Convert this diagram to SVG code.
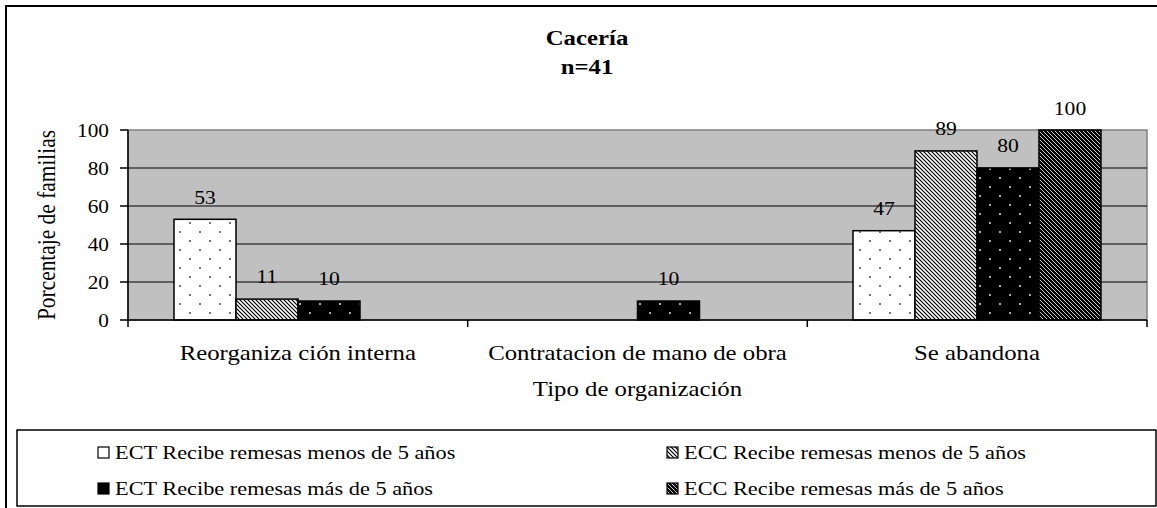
<svg xmlns="http://www.w3.org/2000/svg" width="1157" height="508" viewBox="0 0 1157 508">
<style>
text{font-family:"Liberation Serif","Times New Roman",serif;fill:#000}
.t{font-size:20px;font-weight:bold}
.cat{font-size:20px}
.tick{font-size:19px}
.val{font-size:18px}
.leg{font-size:18px}
.bar{stroke:#000;stroke-width:1.5}
.grid{stroke:#000;stroke-width:1}
.axis{stroke:#000;stroke-width:1.5;fill:none}
</style>
<defs>
<pattern id="dotW" patternUnits="userSpaceOnUse" width="20" height="18">
<rect width="20" height="18" fill="#fff"/>
<rect x="9" y="6" width="2" height="2" fill="#777"/>
<rect x="-1" y="15" width="2" height="2" fill="#777"/>
<rect x="19" y="15" width="2" height="2" fill="#777"/>
</pattern>
<pattern id="dotB" patternUnits="userSpaceOnUse" width="20" height="18">
<rect width="20" height="18" fill="#000"/>
<rect x="9" y="6" width="2" height="2" fill="#aaa"/>
<rect x="-1" y="15" width="2" height="2" fill="#aaa"/>
<rect x="19" y="15" width="2" height="2" fill="#aaa"/>
</pattern>
<pattern id="hatchW" patternUnits="userSpaceOnUse" width="4" height="4">
<rect width="4" height="4" fill="#fff"/>
<path d="M-1,-1 L5,5 M-1,3 L1,5 M3,-1 L5,1" stroke="#000" stroke-width="1.2"/>
</pattern>
<pattern id="hatchB" patternUnits="userSpaceOnUse" width="4" height="4">
<rect width="4" height="4" fill="#000"/>
<path d="M-1,-1 L5,5 M-1,3 L1,5 M3,-1 L5,1" stroke="#ddd" stroke-width="0.9"/>
</pattern>
</defs>

<rect id="frame" x="6" y="6" width="1160" height="520" fill="#fff" stroke="#000" stroke-width="2"/>

<g id="title">
<text class="t" text-anchor="middle" transform="translate(587,45) scale(1.24,1)">Cacería</text>
<text class="t" text-anchor="middle" transform="translate(587,74) scale(1.24,1)">n=41</text>
</g>

<g id="plot">
<rect x="128" y="130" width="1019" height="190" fill="#C0C0C0" stroke="#808080" stroke-width="1.5"/>
<line class="grid" x1="128" y1="168" x2="1147" y2="168"/>
<line class="grid" x1="128" y1="206" x2="1147" y2="206"/>
<line class="grid" x1="128" y1="244" x2="1147" y2="244"/>
<line class="grid" x1="128" y1="282" x2="1147" y2="282"/>
</g>

<g id="bars">
<rect class="bar" x="174" y="219.3" width="62" height="100.7" fill="url(#dotW)"/>
<rect class="bar" x="236" y="299.1" width="62" height="20.9" fill="url(#hatchW)"/>
<rect class="bar" x="298" y="301" width="62" height="19" fill="url(#dotB)"/>
<rect class="bar" x="637.5" y="301" width="62" height="19" fill="url(#dotB)"/>
<rect class="bar" x="853" y="230.7" width="62" height="89.3" fill="url(#dotW)"/>
<rect class="bar" x="915" y="150.9" width="62" height="169.1" fill="url(#hatchW)"/>
<rect class="bar" x="977" y="168" width="62" height="152" fill="url(#dotB)"/>
<rect class="bar" x="1039" y="130" width="62" height="190" fill="url(#hatchB)"/>
</g>

<g id="axes">
<path class="axis" d="M128,130 V327 M128,320 H1147"/>
<path class="axis" d="M120,130 H128 M120,168 H128 M120,206 H128 M120,244 H128 M120,282 H128 M120,320 H128"/>
<path class="axis" d="M467.7,320 V327 M807.3,320 V327 M1147,320 V327"/>
</g>

<g id="ticklabels">
<text class="tick" text-anchor="end" transform="translate(109,137) scale(1.12,1)">100</text>
<text class="tick" text-anchor="end" transform="translate(109,175) scale(1.12,1)">80</text>
<text class="tick" text-anchor="end" transform="translate(109,213) scale(1.12,1)">60</text>
<text class="tick" text-anchor="end" transform="translate(109,251) scale(1.12,1)">40</text>
<text class="tick" text-anchor="end" transform="translate(109,289) scale(1.12,1)">20</text>
<text class="tick" text-anchor="end" transform="translate(109,327) scale(1.12,1)">0</text>
</g>

<g id="values">
<text class="val" text-anchor="middle" transform="translate(205,203.5) scale(1.2,1)">53</text>
<text class="val" text-anchor="middle" transform="translate(267,283) scale(1.2,1)">11</text>
<text class="val" text-anchor="middle" transform="translate(329,285) scale(1.2,1)">10</text>
<text class="val" text-anchor="middle" transform="translate(668.5,285) scale(1.2,1)">10</text>
<text class="val" text-anchor="middle" transform="translate(884,214.5) scale(1.2,1)">47</text>
<text class="val" text-anchor="middle" transform="translate(946,135) scale(1.2,1)">89</text>
<text class="val" text-anchor="middle" transform="translate(1008,152) scale(1.2,1)">80</text>
<text class="val" text-anchor="middle" transform="translate(1070,115) scale(1.2,1)">100</text>
</g>

<g id="axislabels">
<text class="cat" text-anchor="middle" transform="translate(297.8,360) scale(1.24,1)">Reorganiza ción interna</text>
<text class="cat" text-anchor="middle" transform="translate(637.5,360) scale(1.24,1)">Contratacion de mano de obra</text>
<text class="cat" text-anchor="middle" transform="translate(977,360) scale(1.24,1)">Se abandona</text>
<text class="cat" text-anchor="middle" transform="translate(637.5,396) scale(1.24,1)">Tipo de organización</text>
<text class="cat" text-anchor="middle" transform="translate(55,225) rotate(-90) scale(1.07,1.24)">Porcentaje de familias</text>
</g>

<g id="legend">
<rect x="17" y="430" width="1139" height="76" fill="#fff" stroke="#000" stroke-width="1.5"/>
<rect x="98" y="447" width="11" height="11" fill="#fff" stroke="#000" stroke-width="1.2"/>
<rect x="98" y="483" width="11" height="11" fill="#000" stroke="#000" stroke-width="1.2"/>
<rect x="667" y="447" width="11" height="11" fill="url(#hatchW)" stroke="#000" stroke-width="1.2"/>
<rect x="667" y="483" width="11" height="11" fill="url(#hatchB)" stroke="#000" stroke-width="1.2"/>
<text class="leg" transform="translate(115,459) scale(1.24,1)">ECT Recibe remesas menos de 5 años</text>
<text class="leg" transform="translate(115,495) scale(1.24,1)">ECT Recibe remesas más de 5 años</text>
<text class="leg" transform="translate(684,459) scale(1.24,1)">ECC Recibe remesas menos de 5 años</text>
<text class="leg" transform="translate(684,495) scale(1.24,1)">ECC Recibe remesas más de 5 años</text>
</g>
</svg>
